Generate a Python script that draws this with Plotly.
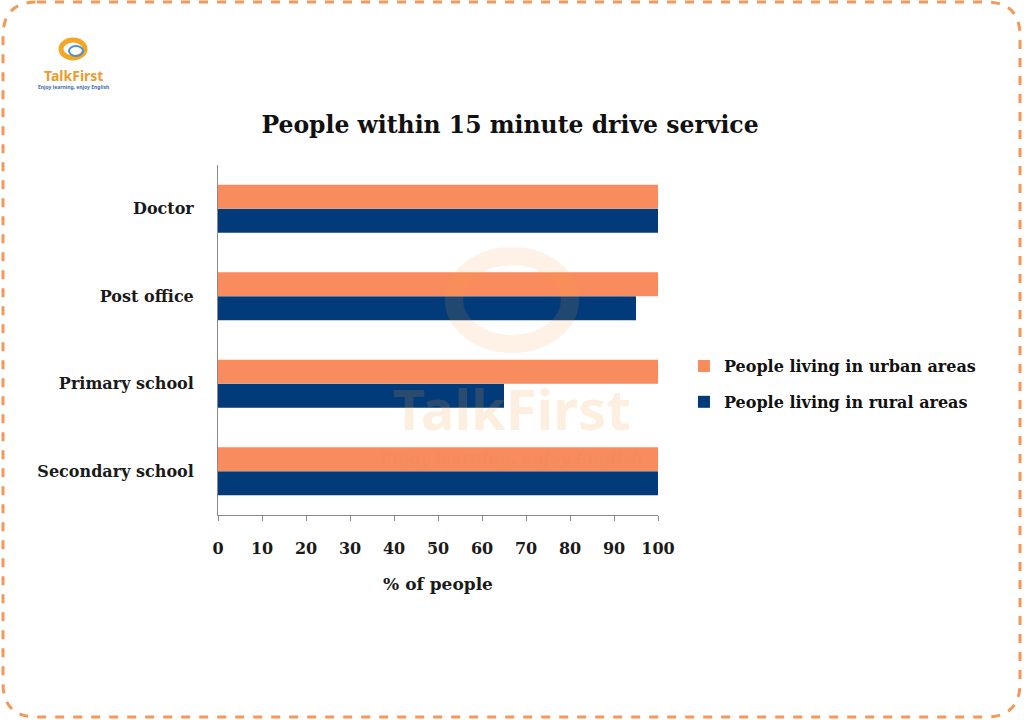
import plotly.graph_objects as go

categories = ["Doctor", "Post office", "Primary school", "Secondary school"]
urban = [100, 100, 100, 100]
rural = [100, 95, 65, 100]
x_ticks = [0, 10, 20, 30, 40, 50, 60, 70, 80, 90, 100]

W, H = 1024, 720
L, R, T, B = 218, 366, 165, 205
FONT = "DejaVu Serif"
ORANGE = "#F98C5F"
NAVY = "#013B79"
BORDER = "#F4975A"

fig = go.Figure()
# rural first so it sits below urban inside each group
fig.add_trace(go.Bar(y=categories, x=rural, orientation="h", name="People living in rural areas",
                     legendgroup="rural", legendrank=2,
                     marker=dict(color=NAVY, line=dict(width=0))))
fig.add_trace(go.Bar(y=categories, x=urban, orientation="h", name="People living in urban areas",
                     legendgroup="urban", legendrank=1,
                     marker=dict(color=ORANGE, line=dict(width=0))))


def px2paper(x, y):
    return (x - L) / (W - L - R), (H - B - y) / (H - T - B)


def P(x, y):
    a, b = px2paper(x, y)
    return f"{a:.5f},{b:.5f}"


# rounded dashed frame around the whole picture, built in pixel units
x0, y0, x1, y1, r = 3, 2, 1020, 717, 34
path = (f"M {P(x0 + r, y0)} L {P(x1 - r, y0)} Q {P(x1, y0)} {P(x1, y0 + r)} "
        f"L {P(x1, y1 - r)} Q {P(x1, y1)} {P(x1 - r, y1)} "
        f"L {P(x0 + r, y1)} Q {P(x0, y1)} {P(x0, y1 - r)} "
        f"L {P(x0, y0 + r)} Q {P(x0, y0)} {P(x0 + r, y0)} Z")
fig.add_shape(type="path", path=path, xref="paper", yref="paper",
              line=dict(color=BORDER, width=3, dash="dash"))


def ring(cx, cy, rx, ry, color, width, opacity=1.0):
    ax, ay = px2paper(cx - rx, cy + ry)
    bx, by = px2paper(cx + rx, cy - ry)
    fig.add_shape(type="circle", xref="paper", yref="paper", x0=ax, y0=ay, x1=bx, y1=by,
                  line=dict(color=color, width=width), opacity=opacity, layer="above")


def text(x, y, s, size, color, family="Noto Sans", opacity=1.0):
    a, b = px2paper(x, y)
    fig.add_annotation(x=a, y=b, xref="paper", yref="paper", text=s, showarrow=False,
                       xanchor="center", yanchor="middle", opacity=opacity,
                       font=dict(size=size, color=color, family=family))


# logo (top left)
ring(73, 49, 12, 9, "#F5A623", 5)
ring(76, 51, 7, 5, "#4A90D0", 2)
text(73, 75, "<b>TalkFirst</b>", 14, "#EE9A2E")
text(73, 87, "Enjoy learning, enjoy English", 5, "#3A6FB0")

# faint watermark
ring(512, 300, 58, 44, "#F5A040", 18, opacity=0.13)
text(512, 408, "<b>TalkFirst</b>", 56, "#F5A040", opacity=0.16)
text(511, 458, "<i>Enjoy learning, enjoy English</i>", 16, "#E08850", family="DejaVu Serif",
     opacity=0.22)

fig.update_layout(
    width=W, height=H,
    margin=dict(l=L, r=R, t=T, b=B),
    paper_bgcolor="white", plot_bgcolor="white",
    font=dict(family=FONT, size=16, color="#1a1a1a", weight="bold"),
    title=dict(text="People within 15 minute drive service", x=510 / W, xanchor="center",
               y=1 - 125 / H, yanchor="middle", yref="container",
               font=dict(family=FONT, size=23.5, color="#111111", weight="bold")),
    barmode="group", bargap=0.45, bargroupgap=0,
    showlegend=True,
    legend=dict(x=1.059, xanchor="left", y=0.374, yanchor="middle", traceorder="grouped",
                font=dict(family=FONT, size=16, color="#111111", weight="bold"),
                itemwidth=30, tracegroupgap=12, bgcolor="rgba(0,0,0,0)"),
    xaxis=dict(range=[0, 100], tickvals=x_ticks, showgrid=False, zeroline=False,
               showline=True, linecolor="#8a8a8a", linewidth=1,
               ticks="outside", ticklen=5, tickcolor="#8a8a8a", ticklabelstandoff=14,
               tickfont=dict(family=FONT, size=16, color="#1a1a1a", weight="bold"),
               title=dict(text="% of people", standoff=20,
                          font=dict(family=FONT, size=17, color="#1a1a1a", weight="bold"))),
    yaxis=dict(categoryorder="array", categoryarray=categories[::-1], showgrid=False,
               zeroline=False, showline=True, linecolor="#8a8a8a", linewidth=1,
               ticks="", ticklabelstandoff=20,
               tickfont=dict(family=FONT, size=16, color="#1a1a1a", weight="bold")),
)

fig.write_html("out.html", config={"displayModeBar": False},
               post_script="document.body.style.margin='0';")
